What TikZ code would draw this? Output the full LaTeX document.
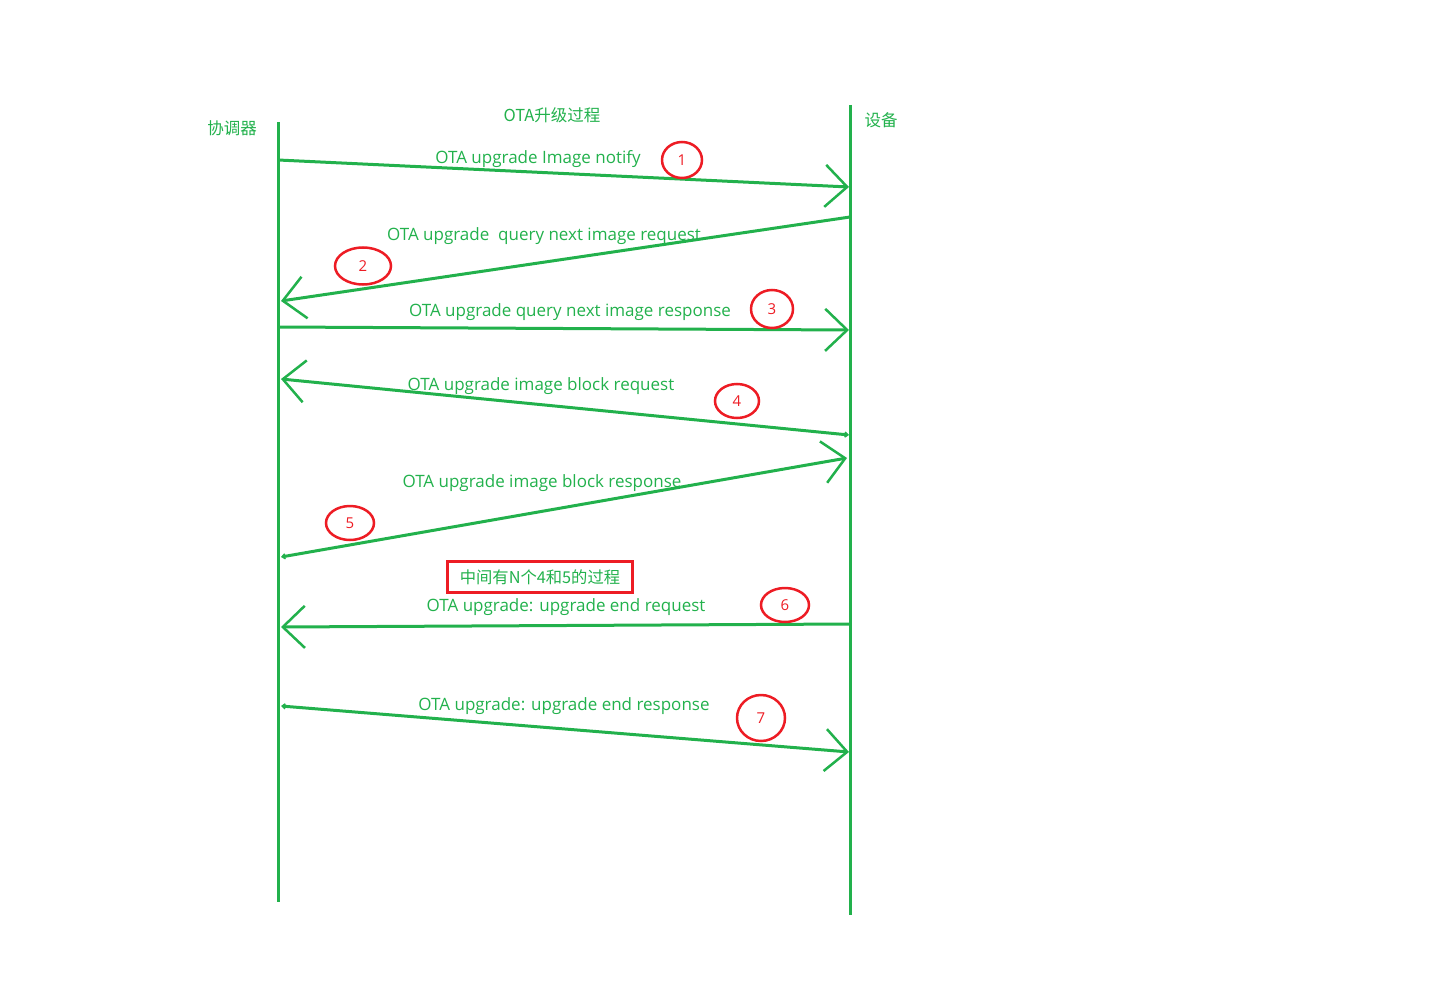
\documentclass[tikz,border=0pt]{standalone}
\usepackage{fontspec}
\setmainfont{Open Sans}
\newfontfamily\cjk{Noto Sans CJK SC}
\usetikzlibrary{arrows.meta,shapes.geometric}
\definecolor{paintgreen}{RGB}{34,177,76}
\definecolor{paintred}{RGB}{237,28,36}

\begin{document}
\begin{tikzpicture}[x=1pt,y=-1pt,
        lifeline/.style={paintgreen,line width=3pt},
        bighead/.tip={Straight Barb[length=22pt,width=42pt,line width=2.5pt]},
        smallhead/.tip={Straight Barb[length=3pt,width=5pt,line width=1.5pt]},
        msg/.style={paintgreen,line width=3pt,-bighead},
        msglabel/.style={text=paintgreen,font=\fontsize{17}{20}\selectfont,inner sep=0pt},
        title/.style={text=paintgreen,font=\cjk\fontsize{16.5}{19}\selectfont,inner sep=0pt},
        stepmark/.style={draw=paintred,line width=2.5pt,ellipse,inner sep=0pt,
            text=paintred,font=\fontsize{15}{17}\selectfont}]
        \useasboundingbox (0,0) rectangle (1429,1003);
        % lifelines
        \coordinate (coordTop) at (278,122);
        \coordinate (coordBottom) at (278,902);
        \coordinate (devTop) at (850,105);
        \coordinate (devBottom) at (850,915);
        \draw[lifeline] (coordTop) -- (coordBottom);
        \draw[lifeline] (devTop) -- (devBottom);
        \node[title] (coord) at (232,128) {协调器};
        \node[title] (dev) at (881,120) {设备};
        \node[title] (head) at (552,115) {OTA升级过程};
        % message ends
        \coordinate (m1a) at (278,160);
        \coordinate (m1b) at (849,187);
        \coordinate (m2a) at (850,217);
        \coordinate (m2b) at (281,301);
        \coordinate (m3a) at (278,327);
        \coordinate (m3b) at (849,330);
        \coordinate (m4a) at (849,435);
        \coordinate (m4b) at (281,379);
        \coordinate (m5a) at (281,557);
        \coordinate (m5b) at (847,458);
        \coordinate (m6a) at (850,624);
        \coordinate (m6b) at (281,627);
        \coordinate (m7a) at (281,706);
        \coordinate (m7b) at (849,752);
        % messages
        \draw[msg] (m1a) -- (m1b);
        \draw[msg] (m2a) -- (m2b);
        \draw[msg] (m3a) -- (m3b);
        \draw[msg,smallhead-bighead] (m4a) -- (m4b);
        \draw[msg,smallhead-bighead] (m5a) -- (m5b);
        \draw[msg] (m6a) -- (m6b);
        \draw[msg,smallhead-bighead] (m7a) -- (m7b);
        \node[msglabel] (l1) at (538,159) {OTA upgrade Image notify};
        \node[msglabel] (l2) at (544,236) {OTA upgrade\ \ query next image request};
        \node[msglabel] (l3) at (570,312) {OTA upgrade query next image response};
        \node[msglabel] (l4) at (541,386) {OTA upgrade image block request};
        \node[msglabel] (l5) at (542,483) {OTA upgrade image block response};
        \node[msglabel] (l6) at (566,607) {OTA upgrade: upgrade end request};
        \node[msglabel] (l7) at (564,706) {OTA upgrade: upgrade end response};
        % step numbers
        \node[stepmark,minimum width=40pt,minimum height=36pt] (s1) at (682,160) {1};
        \node[stepmark,minimum width=56pt,minimum height=37pt] (s2) at (363,266) {2};
        \node[stepmark,minimum width=42pt,minimum height=38pt] (s3) at (772,309) {3};
        \node[stepmark,minimum width=44pt,minimum height=34pt] (s4) at (737,401) {4};
        \node[stepmark,minimum width=48pt,minimum height=34pt] (s5) at (350,523) {5};
        \node[stepmark,minimum width=48pt,minimum height=34pt] (s6) at (785,605) {6};
        \node[stepmark,minimum width=48pt,minimum height=46pt] (s7) at (761,718) {7};
        % note
        \node[draw=paintred,line width=2.5pt,text=paintgreen,font=\cjk\fontsize{16.3}{19}\selectfont,
            minimum width=185pt,minimum height=31pt,inner sep=0pt] (note) at (540,577) {中间有N个4和5的过程};
    \end{tikzpicture}
\end{document}
